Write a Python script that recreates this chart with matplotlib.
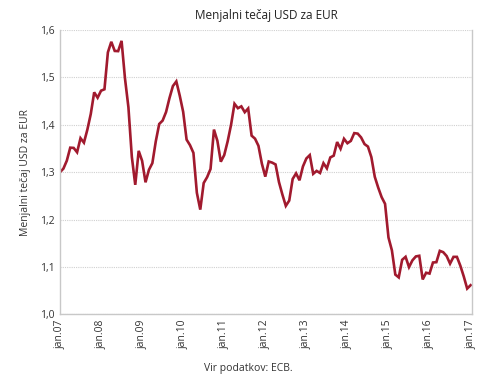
import matplotlib.pyplot as plt
import numpy as np

# monthly ECB reference rate USD per EUR, jan.2007 - jan.2017
rate = [
    1.2999, 1.3074, 1.3242, 1.3516, 1.3511, 1.3419, 1.3716, 1.3622, 1.3896, 1.4227, 1.4684, 1.4570,
    1.4718, 1.4748, 1.5527, 1.5750, 1.5557, 1.5553, 1.5770, 1.4975, 1.4370, 1.3322, 1.2732, 1.3449,
    1.3239, 1.2785, 1.3050, 1.3190, 1.3650, 1.4016, 1.4088, 1.4268, 1.4562, 1.4816, 1.4914, 1.4614,
    1.4272, 1.3686, 1.3569, 1.3406, 1.2565, 1.2209, 1.2770, 1.2894, 1.3067, 1.3898, 1.3661, 1.3220,
    1.3360, 1.3649, 1.3999, 1.4442, 1.4349, 1.4388, 1.4264, 1.4343, 1.3770, 1.3706, 1.3556, 1.3179,
    1.2905, 1.3224, 1.3201, 1.3162, 1.2789, 1.2526, 1.2288, 1.2400, 1.2856, 1.2974, 1.2828, 1.3119,
    1.3288, 1.3359, 1.2964, 1.3026, 1.2982, 1.3189, 1.3080, 1.3310, 1.3348, 1.3635, 1.3493, 1.3704,
    1.3610, 1.3659, 1.3823, 1.3813, 1.3732, 1.3592, 1.3539, 1.3316, 1.2901, 1.2673, 1.2472, 1.2331,
    1.1621, 1.1350, 1.0838, 1.0779, 1.1150, 1.1213, 1.0996, 1.1139, 1.1221, 1.1235, 1.0736, 1.0877,
    1.0860, 1.1093, 1.1100, 1.1339, 1.1311, 1.1229, 1.1069, 1.1212, 1.1212, 1.1026, 1.0799, 1.0543,
    1.0614,
]
years = ["07", "08", "09", "10", "11", "12", "13", "14", "15", "16", "17"]
tick_labels = ["jan." + y for y in years]
y_ticks = [1.0, 1.1, 1.2, 1.3, 1.4, 1.5, 1.6]

plt.rcParams['font.family'] = ['Open Sans', 'DejaVu Sans']

fig = plt.figure(figsize=(4.9, 3.89), dpi=100)
ax = fig.add_axes([0.1224, 0.192, 0.8408, 0.731])

x = np.arange(len(rate))
ax.plot(x, rate, color='#a11a2e', lw=1.9, solid_joinstyle='miter')

ax.set_xlim(0, len(rate) - 0.6)
ax.set_ylim(1.0, 1.6)
ax.set_xticks(np.arange(0, len(rate), 12))
ax.set_xticklabels(tick_labels, rotation=90, fontsize=7.5, color='#333333')
ax.set_yticks(y_ticks)
ax.set_yticklabels([f"{v:.1f}".replace('.', ',') for v in y_ticks], fontsize=7.5, color='#333333')
ax.tick_params(length=0, pad=4)

ax.grid(axis='y', color='#d0d0d0', linestyle=(0, (1, 1)), lw=0.8)
for side in ['left', 'bottom', 'right']:
    ax.spines[side].set_color('#c8c8c8')
    ax.spines[side].set_linewidth(1)
ax.spines['top'].set_visible(False)

ax.set_title("Menjalni tečaj USD za EUR", fontsize=8.5, color='#222222', pad=8)
ax.set_ylabel("Menjalni tečaj USD za EUR", fontsize=7.5, color='#333333', labelpad=6)
fig.text(0.506, 0.052, "Vir podatkov: ECB.", ha='center', va='center', fontsize=7.5, color='#333333')

fig.savefig("out.png", dpi=100)
